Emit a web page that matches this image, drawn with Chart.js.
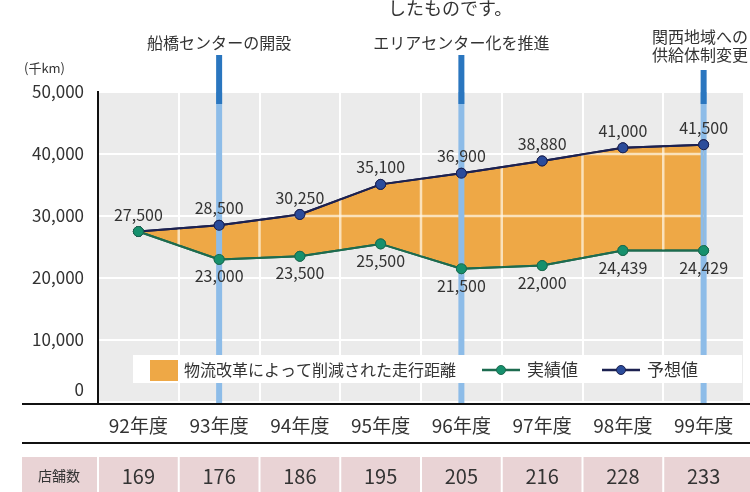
<!DOCTYPE html>
<html lang="ja">
<head>
<meta charset="utf-8">
<title>走行距離の推移</title>
<script src="https://cdn.jsdelivr.net/npm/chart.js@4.4.1/dist/chart.umd.min.js"></script>
<style>
  html, body { margin: 0; padding: 0; background: #ffffff; }
  #wrap { position: relative; width: 750px; height: 492px; }
</style>
</head>
<body>
<div id="wrap"><canvas id="Graph" width="750" height="492"></canvas></div>
<script>
// 年度ごとの走行距離（千km）
const years = ['92年度', '93年度', '94年度', '95年度', '96年度', '97年度', '98年度', '99年度'];
const actualValues = [27500, 23000, 23500, 25500, 21500, 22000, 24439, 24429];
const predictedValues = [27500, 28500, 30250, 35100, 36900, 38880, 41000, 41500];
const storeCounts = [169, 176, 186, 195, 205, 216, 228, 233];
const yTicks = [0, 10000, 20000, 30000, 40000, 50000];

// 出来事の注記
const eventYears = ['93年度', '96年度', '99年度'];
const eventTexts = [['船橋センターの開設'], ['エリアセンター化を推進'], ['関西地域への', '供給体制変更']];

const legendLabels = ['物流改革によって削減された走行距離', '実績値', '予想値'];

const FONT = '"Noto Sans CJK JP", "Noto Sans", sans-serif';
const TEXT = '#333333';
const ORANGE = '#eea846';
const GREEN_LINE = '#1d6b4f';
const GREEN_DOT = '#16906d';
const NAVY_LINE = '#1c2150';
const NAVY_DOT = '#2b4c9b';

function fmt(v) {
    return v.toLocaleString('en-US');
}

// 予想値と実績値の点で囲まれた帯の形
function bandPath(chart) {
    const ctx = chart.ctx;
    const top = chart.getDatasetMeta(1).data;
    const bottom = chart.getDatasetMeta(0).data;
    ctx.beginPath();
    top.forEach((p, i) => (i ? ctx.lineTo(p.x, p.y) : ctx.moveTo(p.x, p.y)));
    for (let i = bottom.length - 1; i >= 0; i--) ctx.lineTo(bottom[i].x, bottom[i].y);
    ctx.closePath();
}

function drawEventLines(chart) {
    const { ctx, chartArea: a, scales } = chart;
    const x = scales.x;
    ctx.save();
    ctx.lineWidth = 6;
    eventYears.forEach((yr, i) => {
        const px = x.getPixelForValue(years.indexOf(yr));
        const lines = eventTexts[i];
        ctx.strokeStyle = '#8dbce8';
        ctx.beginPath(); ctx.moveTo(px, a.top); ctx.lineTo(px, a.bottom + 2); ctx.stroke();
        ctx.strokeStyle = '#2a76bf';
        ctx.beginPath(); ctx.moveTo(px, lines.length > 1 ? 70 : 55); ctx.lineTo(px, a.top + 12); ctx.stroke();
    });
    ctx.restore();
}

const decorPlugin = {
    id: 'decor',
    beforeDraw(chart) {
        const { ctx, chartArea: a } = chart;
        ctx.save();
        ctx.fillStyle = '#ebebeb';
        ctx.fillRect(a.left, a.top, a.right - a.left, a.bottom - a.top);
        ctx.restore();
    },
    beforeDatasetsDraw(chart) {
        drawEventLines(chart);
    },
    afterDatasetsDraw(chart) {
        const { ctx, chartArea: a, scales } = chart;
        const x = scales.x, y = scales.y;

        // 帯の中に罫線と青い縦線を透かす
        ctx.save();
        bandPath(chart);
        ctx.clip();
        ctx.strokeStyle = 'rgba(255,250,235,0.7)';
        ctx.lineWidth = 2.5;
        yTicks.forEach(t => {
            const py = y.getPixelForValue(t);
            ctx.beginPath(); ctx.moveTo(a.left, py); ctx.lineTo(a.right, py); ctx.stroke();
        });
        const step = x.getPixelForValue(1) - x.getPixelForValue(0);
        for (let i = 0; i <= years.length; i++) {
            const px = x.getPixelForValue(0) - step / 2 + i * step;
            ctx.beginPath(); ctx.moveTo(px, a.top); ctx.lineTo(px, a.bottom); ctx.stroke();
        }
        drawEventLines(chart);
        ctx.restore();

        // 折れ線を帯の上に描き直す
        chart.getDatasetMeta(1).controller.draw();
        chart.getDatasetMeta(0).controller.draw();

        // 数値ラベル
        ctx.save();
        ctx.font = '16px ' + FONT;
        ctx.fillStyle = TEXT;
        ctx.textAlign = 'center';
        ctx.textBaseline = 'middle';
        chart.getDatasetMeta(1).data.forEach((pt, i) => {
            ctx.fillText(fmt(predictedValues[i]), pt.x, pt.y - 17);
        });
        chart.getDatasetMeta(0).data.forEach((pt, i) => {
            if (i === 0) return;
            ctx.fillText(fmt(actualValues[i]), pt.x, pt.y + 17);
        });
        ctx.restore();

        // 凡例
        ctx.save();
        ctx.fillStyle = '#ffffff';
        ctx.fillRect(133, 355, 609, 28);
        ctx.fillStyle = ORANGE;
        ctx.fillRect(150, 360, 28, 21);
        ctx.font = '16px ' + FONT;
        ctx.fillStyle = TEXT;
        ctx.textBaseline = 'middle';
        ctx.textAlign = 'left';
        ctx.fillText(legendLabels[0], 184, 370);
        const items = [[482, GREEN_LINE, GREEN_DOT, legendLabels[1]], [602, NAVY_LINE, NAVY_DOT, legendLabels[2]]];
        items.forEach(([lx, lc, dc, label]) => {
            ctx.strokeStyle = lc;
            ctx.lineWidth = 2.5;
            ctx.beginPath(); ctx.moveTo(lx, 370); ctx.lineTo(lx + 38, 370); ctx.stroke();
            ctx.fillStyle = dc;
            ctx.beginPath(); ctx.arc(lx + 19, 370, 4.5, 0, Math.PI * 2); ctx.fill();
            ctx.strokeStyle = lc; ctx.lineWidth = 1; ctx.stroke();
            ctx.fillStyle = TEXT;
            ctx.font = '17px ' + FONT;
            ctx.fillText(label, lx + 45, 370);
        });
        ctx.restore();
    },
    afterDraw(chart) {
        const { ctx, chartArea: a, scales, width } = chart;
        const x = scales.x, y = scales.y;
        ctx.save();
        ctx.strokeStyle = '#111111';
        ctx.lineWidth = 2;
        ctx.beginPath(); ctx.moveTo(22, a.bottom + 2); ctx.lineTo(width, a.bottom + 2); ctx.stroke();
        ctx.beginPath(); ctx.moveTo(22, 443); ctx.lineTo(width, 443); ctx.stroke();

        ctx.fillStyle = TEXT;
        ctx.textAlign = 'right';
        ctx.textBaseline = 'middle';
        ctx.font = '17px ' + FONT;
        ctx.fillText('0', a.left - 14, y.getPixelForValue(0) - 12);

        // 店舗数の表
        ctx.fillStyle = '#e9d3d5';
        ctx.fillRect(22, 457, width - 22, 35);
        ctx.strokeStyle = '#ffffff';
        ctx.lineWidth = 2;
        const step = x.getPixelForValue(1) - x.getPixelForValue(0);
        for (let i = 0; i < years.length; i++) {
            const px = x.getPixelForValue(i) - step / 2;
            ctx.beginPath(); ctx.moveTo(px, 457); ctx.lineTo(px, 492); ctx.stroke();
        }
        ctx.fillStyle = TEXT;
        ctx.textAlign = 'center';
        ctx.font = '14px ' + FONT;
        ctx.fillText('店舗数', 59, 476);
        ctx.font = '20px ' + FONT;
        storeCounts.forEach((n, i) => ctx.fillText(String(n), x.getPixelForValue(i), 476));

        // 注記
        ctx.font = '16px ' + FONT;
        eventYears.forEach((yr, i) => {
            const px = x.getPixelForValue(years.indexOf(yr));
            const lines = eventTexts[i];
            if (lines.length > 1) {
                ctx.textAlign = 'right';
                lines.forEach((t, j) => ctx.fillText(t, width - 2, 37 + j * 18));
                ctx.textAlign = 'center';
            } else {
                ctx.fillText(lines[0], px, 43);
            }
        });

        ctx.font = '18px ' + FONT;
        ctx.textAlign = 'left';
        ctx.fillText('したものです。', 388, 8);

        ctx.font = '13px ' + FONT;
        ctx.fillText('(千km)', 24, 68);
        ctx.restore();
    }
};

new Chart(document.getElementById('Graph'), {
    type: 'line',
    data: {
        labels: years,
        datasets: [{
            label: legendLabels[1],
            data: actualValues,
            borderColor: GREEN_LINE,
            borderWidth: 2,
            pointBackgroundColor: GREEN_DOT,
            pointBorderColor: GREEN_LINE,
            pointBorderWidth: 1,
            pointRadius: 5,
            fill: false,
            tension: 0
        }, {
            label: legendLabels[2],
            data: predictedValues,
            borderColor: NAVY_LINE,
            borderWidth: 2,
            pointBackgroundColor: NAVY_DOT,
            pointBorderColor: NAVY_LINE,
            pointBorderWidth: 1,
            pointRadius: 5,
            backgroundColor: ORANGE,
            fill: 0,
            tension: 0
        }]
    },
    options: {
        responsive: false,
        animation: false,
        layout: { padding: { top: 92, right: 4, left: 0, bottom: 0 } },
        plugins: {
            legend: { display: false },
            tooltip: { enabled: false }
        },
        scales: {
            x: {
                offset: true,
                afterFit(scale) { scale.height = 90; },
                grid: { color: '#ffffff', lineWidth: 2, drawTicks: false, offset: true },
                border: { display: false },
                ticks: { color: TEXT, font: { family: FONT, size: 19 }, padding: 12, maxRotation: 0 }
            },
            y: {
                min: 0,
                max: 50000,
                afterFit(scale) { scale.width = 98; },
                afterBuildTicks(scale) { scale.ticks = yTicks.map(v => ({ value: v })); },
                grid: { color: '#ffffff', lineWidth: 2, drawTicks: false },
                border: { display: true, color: '#111111', width: 2 },
                ticks: {
                    color: TEXT,
                    font: { family: FONT, size: 17 },
                    padding: 14,
                    callback: v => (v === 0 ? '' : fmt(v))
                }
            }
        }
    },
    plugins: [decorPlugin]
});
</script>
</body>
</html>
